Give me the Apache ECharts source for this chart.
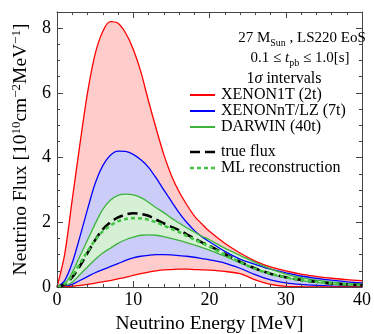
<!DOCTYPE html>
<html>
<head>
<meta charset="utf-8">
<script src="https://cdn.jsdelivr.net/npm/echarts@6/dist/echarts.min.js"></script>
<style>
  html, body { margin: 0; padding: 0; background: #fff; }
  #chart { width: 374px; height: 334px; }
</style>
</head>
<body>
<div id="chart"></div>
<script>
// neutrino energy [MeV]
var energy = [0, 1, 2, 3, 4, 5, 6, 7, 8, 9, 10, 11, 12, 13, 14, 15, 16, 17, 18, 19, 20, 22, 24, 26, 28, 30, 32, 34, 36, 38, 40];

// 1 sigma intervals, flux in 10^10 cm^-2 MeV^-1
var xenon1tLow  = [0, 0, 0.02, 0.05, 0.08, 0.12, 0.16, 0.2, 0.25, 0.3, 0.36, 0.41, 0.46, 0.5, 0.53, 0.54, 0.55, 0.55, 0.54, 0.53, 0.52, 0.48, 0.41, 0.22, 0.08, 0.02, 0.01, 0, 0, 0, 0];
var xenon1tHigh = [0, 1.0, 2.7, 4.4, 6.0, 7.2, 7.9, 8.2, 8.15, 7.85, 7.35, 6.65, 5.75, 4.9, 4.1, 3.45, 2.95, 2.55, 2.2, 1.95, 1.72, 1.35, 1.05, 0.8, 0.62, 0.5, 0.4, 0.33, 0.27, 0.23, 0.2];
var xenonntLow  = [0, 0.01, 0.08, 0.2, 0.32, 0.44, 0.54, 0.63, 0.72, 0.82, 0.9, 0.95, 0.98, 1.0, 1.0, 0.99, 0.97, 0.95, 0.92, 0.88, 0.84, 0.74, 0.58, 0.38, 0.22, 0.13, 0.08, 0.05, 0.03, 0.02, 0.02];
var xenonntHigh = [0, 0.2, 0.75, 1.55, 2.4, 3.2, 3.75, 4.07, 4.2, 4.19, 4.1, 3.93, 3.7, 3.37, 3.0, 2.65, 2.3, 2.0, 1.75, 1.55, 1.4, 1.1, 0.86, 0.7, 0.55, 0.44, 0.34, 0.27, 0.21, 0.16, 0.13];
var darwinLow   = [0, 0.03, 0.15, 0.38, 0.62, 0.85, 1.05, 1.2, 1.35, 1.46, 1.54, 1.6, 1.61, 1.6, 1.56, 1.5, 1.44, 1.37, 1.3, 1.22, 1.14, 0.95, 0.75, 0.56, 0.4, 0.29, 0.2, 0.14, 0.09, 0.06, 0.04];
var darwinHigh  = [0, 0.1, 0.45, 0.95, 1.45, 1.95, 2.4, 2.68, 2.83, 2.87, 2.85, 2.76, 2.62, 2.45, 2.3, 2.13, 1.98, 1.83, 1.7, 1.57, 1.46, 1.2, 0.98, 0.76, 0.56, 0.4, 0.29, 0.21, 0.15, 0.11, 0.08];

var trueFlux = [0, 0.08, 0.3, 0.65, 1.05, 1.45, 1.78, 2.0, 2.15, 2.24, 2.28, 2.26, 2.2, 2.08, 1.97, 1.86, 1.76, 1.63, 1.5, 1.38, 1.27, 1.02, 0.78, 0.57, 0.41, 0.3, 0.22, 0.16, 0.11, 0.08, 0.06];
var mlFlux   = [0, 0.1, 0.35, 0.72, 1.1, 1.45, 1.72, 1.9, 2.03, 2.1, 2.13, 2.12, 2.08, 2.0, 1.9, 1.8, 1.7, 1.58, 1.47, 1.36, 1.25, 1.0, 0.77, 0.56, 0.41, 0.3, 0.22, 0.16, 0.11, 0.08, 0.06];

var serif = "'Liberation Serif', 'Times New Roman', serif";

var red = "#ff0000", blue = "#0000ff", green = "#3cb43c", mlGreen = "#44c444";
var pink = "#ffcccc", lavender = "#ccccf8", mint = "#d6f0d6";

function pairs(arr) {
  return energy.map(function (e, i) { return [e, arr[i]]; });
}

// each edge is filled down to zero; the bands are nested, so painting
// them in this order leaves every band with its own colour
function edge(name, arr, line, fill) {
  return {
    name: name, type: "line", data: pairs(arr), smooth: 0.3, symbol: "none",
    lineStyle: { color: line, width: 1.3 },
    areaStyle: { color: fill, opacity: 1 }
  };
}

function legendText(y, text) {
  return {
    type: "text", z: 100, x: 221, y: y,
    style: { text: text, fontSize: 16, fontFamily: serif, fill: "#000", verticalAlign: "middle", textVerticalAlign: "middle" }
  };
}
function legendLine(y, color, width, dash) {
  return {
    type: "line", z: 100, shape: { x1: 190, y1: y, x2: 215, y2: y },
    style: { stroke: color, lineWidth: width, lineDash: dash || null }
  };
}

var frame = "#444";
var axisCommon = {
  type: "value",
  axisLine: { show: true, onZero: false, lineStyle: { color: frame, width: 1 } },
  axisTick: { show: true, inside: true, length: 6, lineStyle: { color: frame } },
  splitLine: { show: false },
  z: 5
};

var myChart = echarts.init(document.getElementById("chart"));

var option = {
  animation: false,
  grid: { left: 57, right: 12, top: 12, bottom: 47, outerBoundsMode: "none", containLabel: false },
  xAxis: [
    Object.assign({}, axisCommon, {
      min: 0, max: 40, interval: 10,
      minorTick: { show: true, splitNumber: 5, length: 3, lineStyle: { color: frame } },
      axisLabel: { color: "#000", fontSize: 18, fontFamily: serif, margin: 4 },
      name: "Neutrino Energy [MeV]", nameLocation: "middle", nameGap: 25,
      nameTextStyle: { color: "#000", fontSize: 19.5, fontFamily: serif }
    }),
    Object.assign({}, axisCommon, {
      position: "top", min: 0, max: 40, interval: 10,
      minorTick: { show: true, splitNumber: 5, length: 3, lineStyle: { color: frame } },
      axisLabel: { show: false }
    })
  ],
  yAxis: [
    Object.assign({}, axisCommon, {
      min: 0, max: 8.5, interval: 2,
      minorTick: { show: true, splitNumber: 4, length: 3, lineStyle: { color: frame } },
      axisLabel: { color: "#000", fontSize: 18, fontFamily: serif, margin: 6, showMaxLabel: false },
      name: "{n|Neutrino Flux [10}{s|10}{n|cm}{s|−2}{n|MeV}{s|−1}{n|]}",
      nameLocation: "middle", nameGap: 12, nameRotate: 90,
      nameTextStyle: {
        rich: {
          n: { fontSize: 19.5, fontFamily: serif, color: "#000", lineHeight: 23 },
          s: { fontSize: 13, fontFamily: serif, color: "#000", lineHeight: 14, verticalAlign: "top" }
        }
      }
    }),
    Object.assign({}, axisCommon, {
      position: "right", min: 0, max: 8.5, interval: 2,
      minorTick: { show: true, splitNumber: 4, length: 3, lineStyle: { color: frame } },
      axisLabel: { show: false }
    })
  ],
  series: [
    edge("XENON1T (2t)", xenon1tHigh, red, pink),
    edge("XENONnT/LZ (7t)", xenonntHigh, blue, lavender),
    edge("DARWIN (40t)", darwinHigh, green, mint),
    edge("DARWIN low", darwinLow, green, lavender),
    edge("XENONnT/LZ low", xenonntLow, blue, pink),
    edge("XENON1T low", xenon1tLow, red, "#ffffff"),
    {
      name: "true flux", type: "line", data: pairs(trueFlux), smooth: 0.3, symbol: "none",
      lineStyle: { color: "#000", width: 2.6, type: [10, 5] }
    },
    {
      name: "ML reconstruction", type: "line", data: pairs(mlFlux), smooth: 0.3, symbol: "none",
      lineStyle: { color: mlGreen, width: 2.6, type: [4, 3] }
    }
  ],
  graphic: [
    {
      type: "text", x: 302, y: 38, z: 100,
      style: {
        text: "{a|27 M}{b|Sun}{a| , LS220 EoS}",
        align: "center", verticalAlign: "middle", textAlign: "center", textVerticalAlign: "middle",
        rich: {
          a: { fontSize: 15, fontFamily: serif, fill: "#000", lineHeight: 20 },
          b: { fontSize: 10, fontFamily: serif, fill: "#000", lineHeight: 12, verticalAlign: "bottom" }
        }
      }
    },
    {
      type: "text", x: 300, y: 58, z: 100,
      style: {
        text: "{a|0.1 ≤ }{i|t}{b|pb}{a| ≤ 1.0[s]}",
        align: "center", verticalAlign: "middle", textAlign: "center", textVerticalAlign: "middle",
        rich: {
          a: { fontSize: 15, fontFamily: serif, fill: "#000", lineHeight: 20 },
          i: { fontSize: 15, fontFamily: serif, fontStyle: "italic", fill: "#000", lineHeight: 20 },
          b: { fontSize: 10, fontFamily: serif, fill: "#000", lineHeight: 12, verticalAlign: "bottom" }
        }
      }
    },
    {
      type: "text", x: 284, y: 79, z: 100,
      style: {
        text: "{a|1}{i|σ}{a| intervals}",
        align: "center", verticalAlign: "middle", textAlign: "center", textVerticalAlign: "middle",
        rich: {
          a: { fontSize: 16, fontFamily: serif, fill: "#000", lineHeight: 20 },
          i: { fontSize: 16, fontFamily: serif, fontStyle: "italic", fill: "#000", lineHeight: 20 }
        }
      }
    },
    legendLine(95, red, 2),
    legendLine(111, blue, 2),
    legendLine(127, green, 2),
    legendLine(152, "#000", 2.6, [10, 5]),
    legendLine(168, mlGreen, 2.6, [4, 3]),
    legendText(95, "XENON1T (2t)"),
    legendText(111, "XENONnT/LZ (7t)"),
    legendText(127, "DARWIN (40t)"),
    legendText(152, "true flux"),
    legendText(168, "ML reconstruction")
  ]
};

myChart.setOption(option);
</script>
</body>
</html>
